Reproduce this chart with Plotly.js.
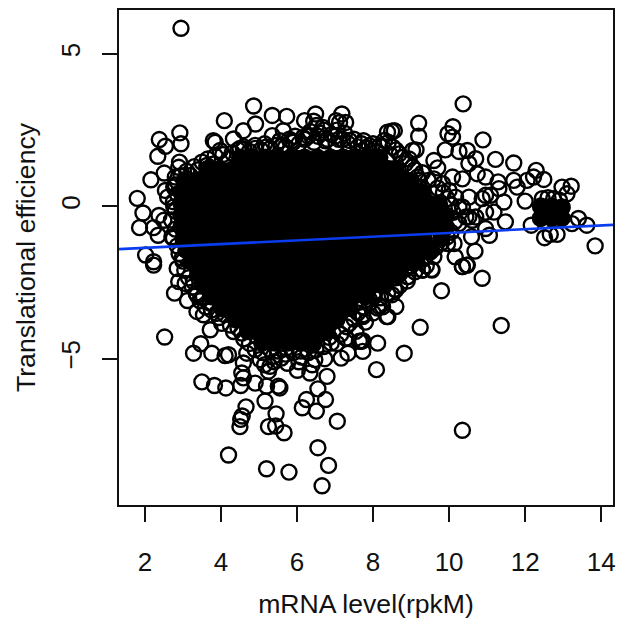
<!DOCTYPE html>
<html><head><meta charset="utf-8">
<script src="https://cdn.plot.ly/plotly-3.0.1.min.js"></script>
<style>html,body{margin:0;padding:0;background:#fff}#c{width:619px;height:624px}</style>
</head><body><div id="c"></div>
<script>
const xTicks=[2,4,6,8,10,12,14];
const yTicks=[-5,0,5];
const yTickLabels=['\u22125','0','5'];
const fitX=[1.32,14.31];
const fitY=[-1.405,-0.61];
// separately visible circles
const genesX=[2.95,4.86,4.09,5.35,5.73,4.91,4.59,6.2,6.49,6.44,7.18,7.12,7.28,7.03,5.35,5.64,4.33,3.85,3.8,3.98,2.92,2.95,2.38,2.54,2.34,2.91,2.89,2.16,2.51,2.54,2.6,1.8,1.95,1.86,2.37,2.23,2.35,2.5,2.71,2.02,2.23,2.98,3.19,3.63,3.8,2.8,2.76,2.76,7.38,7.7,7.73,6.68,6.51,6.16,5.86,7.03,4.59,
10.37,9.2,9.2,8.49,8.56,10.1,9.97,10.09,10.89,9.9,10.26,10.48,9.6,9.7,10.7,10.52,11.22,11.7,12.29,12.22,12.49,11.7,11.79,12.05,12.0,11.29,11.31,10.96,10.74,10.35,9.04,9.04,9.13,8.17,7.9,10.09,9.17,9.21,10.96,10.87,11.09,11.44,11.18,11.48,10.96,10.52,10.35,10.52,10.7,10.26,10.96,11.06,10.59,10.13,9.96,10.68,10.16,10.48,10.35,9.55,9.3,8.91,10.87,9.8,8.6,8.39,8.17,9.24,11.37,13.84,13.62,13.4,13.23,13.21,12.97,13.1,12.97,12.16,12.51,12.66,12.84,12.45,12.6,12.75,12.9,9.83,10.0,10.17,10.26,10.44,10.61,
2.52,3.47,3.28,3.76,4.11,4.2,3.5,3.83,4.13,4.52,4.59,4.55,4.9,5.2,5.51,5.55,5.25,5.16,4.66,4.56,4.52,4.5,5.45,5.25,5.44,5.66,4.2,5.2,5.79,6.55,6.83,6.66,7.06,6.51,6.14,6.25,6.75,6.55,6.79,6.01,6.34,6.73,6.12,6.47,5.59,7.16,7.34,7.73,7.69,7.3,6.9,6.38,5.72,5.38,5.03,4.68,4.59,5.29,2.78,3.12,2.23,2.85,2.89,3.06,3.54,3.37,3.54,3.72,4.02,4.33,4.55,4.94,5.38,3.72,3.89,3.28,3.37,7.73,7.38,
10.35,8.82,8.09,8.12,7.73,7.64,8.6,8.36,7.73,8.12,8.56,8.91,9.3,9.54,10.35,10.46,8.38,7.9,7.29,6.42,8.03,
8.69,8.52,9.2,8.38,8.3,7.0,6.8,6.3,5.9,5.2,4.9,4.5,5.6,6.6,7.2,
4.3,4.45,4.6,4.75,4.9,5.05,5.15,5.3,5.45,5.55,5.7,5.8,5.95,6.05,6.2,6.35,6.45,6.55,6.7,6.75,6.9,7.05,7.1,7.25,7.35,7.5,7.6,7.75,7.85,8.0,8.1,8.25,8.4,8.45,8.6,8.75,8.85,8.95,9.1,9.3,9.45,9.6,9.7,9.85,9.95,10.05,10.1,10.15,
3.3,3.5,3.65,3.85,4.05,4.2,3.1,2.95,3.4,
2.8,2.85,2.75,2.8,2.7,2.8,2.75,2.85,2.9,3.0,3.05,3.15,3.25,3.35,3.45,3.6,3.75,3.95,4.1,4.25,4.45,4.6,4.75,4.9,5.1,5.3,5.5,5.7,5.9,6.1,6.3,6.5,6.7,6.85,7.05,7.15,7.3,7.5,7.6,7.75,7.9,8.05,8.2,8.3,8.45,8.6,8.7,8.85,9.0,9.15,9.35,9.5,9.65,9.8,9.95,10.05,
8.5,8.7,8.9,9.1,8.25,8.0,7.8,7.55,9.4,9.6,5.4,5.75,6.05,5.15,6.4];
const genesY=[5.84,3.29,2.81,2.98,2.95,2.70,2.48,2.81,3.03,2.79,3.03,2.75,2.75,2.81,2.32,2.48,2.21,2.1,2.15,1.83,2.41,2.05,2.19,1.97,1.64,1.45,1.28,0.87,1.09,0.52,0.3,0.26,-0.22,-0.7,-0.3,-0.7,-0.95,-0.46,-1.0,-1.6,-1.82,-1.71,1.01,1.34,1.39,0.96,0.63,-0.02,2.16,2.05,1.83,2.59,2.65,2.26,2.15,2.05,1.88,
3.36,2.73,2.3,2.46,2.48,2.61,2.38,2.27,2.18,1.85,1.8,1.83,1.5,1.26,1.56,1.4,1.54,1.42,1.18,0.96,0.88,0.85,0.63,0.85,0.17,0.8,0.58,0.96,1.07,0.9,1.29,1.83,1.85,1.99,1.99,0.96,0.96,0.63,0.36,0.25,0.36,0.14,-0.19,-0.51,-0.19,0.3,-0.02,-0.35,-0.35,-0.57,-0.73,-0.95,-1.0,-1.22,-1.22,-1.47,-1.66,-1.93,-1.98,-2.09,-2.09,-2.31,-2.36,-2.77,-2.74,-3.62,-3.29,-3.97,-3.91,-1.3,-0.62,-0.4,-0.57,0.66,0.63,0.41,-0.02,-0.62,-1.03,-0.92,-0.92,0.25,0.28,0.25,0.2,0.74,0.52,0.3,-0.02,-0.35,-0.46,
-4.29,-4.51,-4.82,-4.82,-4.9,-4.87,-5.76,-5.88,-5.96,-5.88,-5.63,-5.47,-5.8,-5.9,-5.9,-5.96,-5.41,-6.39,-6.58,-6.88,-6.99,-7.23,-6.81,-7.23,-7.21,-7.43,-8.16,-8.61,-8.72,-7.92,-8.5,-9.17,-7.05,-6.72,-6.61,-6.34,-6.34,-5.99,-5.58,-5.38,-5.47,-5.0,-4.95,-5.03,-4.98,-4.98,-4.82,-4.76,-4.43,-4.33,-4.49,-4.49,-4.65,-4.92,-5.03,-4.82,-5.14,-5.25,-2.85,-3.09,-1.93,-2.04,-2.47,-2.53,-2.96,-3.45,-3.56,-4.05,-3.84,-4.11,-4.16,-4.27,-4.38,-3.18,-3.51,-2.47,-2.91,-3.56,-3.84,
-7.35,-4.82,-5.36,-4.49,-4.41,-4.43,-3.29,-3.62,-3.62,-3.34,-2.72,-2.31,-2.09,-2.07,-1.98,-1.93,-2.85,-3.18,-4.33,-4.54,-2.96,
1.72,1.94,0.85,2.43,2.16,2.3,2.2,2.3,2.1,1.95,2.0,1.9,2.0,2.4,2.2,
1.75,1.85,1.95,1.8,1.9,1.85,2.05,1.9,2.0,2.15,1.95,2.2,2.3,2.05,2.2,2.45,2.1,2.3,2.5,2.15,2.35,2.5,2.2,2.4,2.05,2.2,1.95,2.15,1.9,2.05,1.8,1.95,2.1,1.7,1.85,1.6,1.4,1.55,1.2,1.1,0.85,0.9,0.6,0.45,0.25,0.05,-0.2,-0.5,
1.3,1.45,1.55,1.65,1.7,1.55,1.15,1.0,1.2,
0.7,0.4,0.15,-0.15,-0.45,-0.75,-1.05,-1.3,-1.55,-1.8,-2.1,-2.35,-2.65,-2.85,-3.1,-3.3,-3.4,-3.65,-3.55,-3.9,-4.0,-4.35,-4.5,-4.7,-4.8,-4.7,-4.75,-4.85,-4.8,-4.75,-4.8,-4.7,-4.6,-4.3,-4.5,-4.2,-3.95,-3.7,-3.5,-3.3,-3.05,-2.8,-3.0,-2.6,-2.4,-2.35,-2.1,-2.05,-1.95,-1.8,-1.7,-1.5,-1.35,-1.2,-1.0,-0.85,
-2.9,-2.6,-2.45,-2.15,-3.3,-3.5,-3.8,-4.1,-1.95,-1.65,-5.1,-5.15,-5.1,-5.2,-5.2];
// the region where circles overlap into solid black: one y per row, with that row's x values
const massRowY=[1.6,1.22,.84,.46,.08,-.3,-.68,-1.06,-1.44,-1.82,-2.2,-2.58,-2.96,-3.34,-3.72,-4.1,-4.48,0,-.05,-.39];
const massRowX=[
[4.5,4.84,5.18,5.52,5.86,6.2,6.54,6.88,7.22,7.56,7.9,8.17],
[3.64,3.98,4.32,4.66,5.0,5.35,5.69,6.03,6.37,6.71,7.05,7.39,7.73,8.07,8.41,8.59],
[3.04,3.38,3.72,4.06,4.4,4.74,5.08,5.42,5.76,6.1,6.44,6.78,7.12,7.46,7.8,8.14,8.48,8.82,9.0],
[2.96,3.21,3.55,3.89,4.23,4.57,4.91,5.25,5.59,5.93,6.27,6.61,6.95,7.29,7.63,7.97,8.31,8.65,8.99,9.32],
[2.96,3.38,3.72,4.06,4.4,4.74,5.08,5.42,5.76,6.1,6.44,6.78,7.12,7.46,7.8,8.14,8.48,8.82,9.16,9.5,9.74],
[2.96,3.21,3.55,3.89,4.23,4.57,4.91,5.25,5.59,5.93,6.27,6.61,6.95,7.29,7.63,7.97,8.31,8.65,8.99,9.33,9.67,9.92],
[2.96,3.38,3.72,4.06,4.4,4.74,5.08,5.42,5.76,6.1,6.44,6.78,7.12,7.46,7.8,8.14,8.48,8.82,9.16,9.5,9.92],
[3.01,3.21,3.55,3.89,4.23,4.57,4.91,5.25,5.59,5.93,6.27,6.61,6.95,7.29,7.63,7.97,8.31,8.65,8.99,9.33,9.79],
[3.09,3.38,3.72,4.06,4.4,4.74,5.08,5.42,5.76,6.1,6.44,6.78,7.12,7.46,7.8,8.14,8.48,8.82,9.16,9.53],
[3.22,3.55,3.89,4.23,4.57,4.91,5.25,5.59,5.93,6.27,6.61,6.95,7.29,7.63,7.97,8.31,8.65,8.99,9.14],
[3.4,3.72,4.06,4.4,4.74,5.08,5.42,5.76,6.1,6.44,6.78,7.12,7.46,7.8,8.14,8.48,8.7],
[3.53,3.89,4.23,4.57,4.91,5.25,5.59,5.93,6.27,6.61,6.95,7.29,7.63,7.97,8.22],
[3.74,4.06,4.4,4.74,5.08,5.42,5.76,6.1,6.44,6.78,7.12,7.46,7.8],
[4.03,4.23,4.57,4.91,5.25,5.59,5.93,6.27,6.61,6.95,7.29,7.38],
[4.4,4.74,5.08,5.42,5.76,6.1,6.44,6.78,7.04],
[4.71,4.91,5.25,5.59,5.93,6.27,6.61,6.78],
[5.08,5.42,5.76,6.1,6.44],
[12.41,12.7],
[12.96],
[12.41,12.7,12.96]];
const xTitle='mRNA level(rpkM)';
const yTitle='Translational efficiency';

const massX=massRowX.flat();
const massY=massRowX.flatMap((r,i)=>r.map(()=>massRowY[i]));
const font={family:'"Liberation Sans",Arial,sans-serif',size:26,color:'#111'};
const titleFont={family:font.family,size:26.6,color:'#111'};
const axisBase={showgrid:false,zeroline:false,showline:true,mirror:true,linecolor:'#111',linewidth:2,
  ticks:'outside',ticklen:15,tickwidth:2,tickcolor:'#111',tickfont:font,automargin:false};
Plotly.newPlot('c',[
 {x:massX,y:massY,type:'scatter',mode:'markers',marker:{symbol:'circle',size:18,color:'#000',line:{width:0}},hoverinfo:'skip'},
 {x:genesX,y:genesY,type:'scatter',mode:'markers',marker:{symbol:'circle-open',size:15,color:'#000',line:{width:2.4,color:'#000'}}},
 {x:fitX,y:fitY,type:'scatter',mode:'lines',line:{color:'#0a3cf0',width:2.6}}
],{
 width:619,height:624,showlegend:false,paper_bgcolor:'#fff',plot_bgcolor:'#fff',
 margin:{l:119,r:6,t:10,b:119,pad:0},
 xaxis:Object.assign({},axisBase,{range:[1.32,14.31],tickvals:xTicks,ticktext:xTicks.map(String),tickangle:0,ticklabelstandoff:18,
   title:{text:xTitle,font:titleFont,standoff:18}}),
 yaxis:Object.assign({},axisBase,{range:[-9.8,6.44],tickvals:yTicks,ticktext:yTickLabels,tickangle:-90,ticklabelstandoff:12,
   title:{text:yTitle,font:titleFont,standoff:12}})
},{displayModeBar:false,staticPlot:true});
</script></body></html>
